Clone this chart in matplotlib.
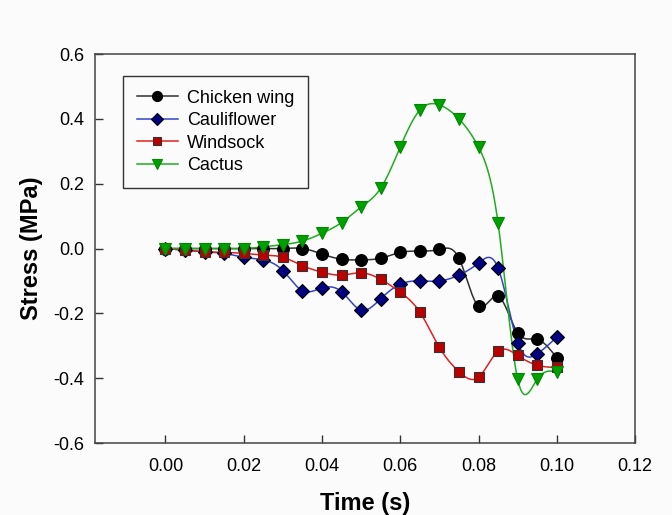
import numpy as np
import matplotlib
matplotlib.use("Agg")
import matplotlib.pyplot as plt

plt.rcParams['font.family'] = ['Liberation Sans', 'DejaVu Sans']

time = [0.000, 0.005, 0.010, 0.015, 0.020, 0.025, 0.030, 0.035, 0.040, 0.045,
        0.050, 0.055, 0.060, 0.065, 0.070, 0.075, 0.080, 0.085, 0.090, 0.095, 0.100]
chicken = [0.000, 0.000, 0.000, 0.000, 0.000, 0.000, 0.000, 0.000, -0.017, -0.033,
           -0.035, -0.030, -0.012, -0.008, -0.003, -0.030, -0.178, -0.147, -0.260, -0.280, -0.337]
cauliflower = [0.000, -0.005, -0.010, -0.015, -0.027, -0.035, -0.068, -0.130, -0.122, -0.133,
               -0.190, -0.155, -0.110, -0.100, -0.100, -0.082, -0.045, -0.060, -0.290, -0.325, -0.273]
windsock = [0.000, -0.005, -0.010, -0.012, -0.015, -0.020, -0.027, -0.053, -0.073, -0.082,
            -0.075, -0.095, -0.135, -0.196, -0.305, -0.380, -0.397, -0.317, -0.330, -0.360, -0.367]
cactus = [0.000, 0.000, 0.000, 0.000, 0.000, 0.005, 0.012, 0.023, 0.047, 0.080,
          0.128, 0.186, 0.313, 0.427, 0.443, 0.400, 0.313, 0.078, -0.403, -0.403, -0.380]

labels = ['Chicken wing', 'Cauliflower', 'Windsock', 'Cactus']
xticks = [0.00, 0.02, 0.04, 0.06, 0.08, 0.10, 0.12]
yticks = [-0.6, -0.4, -0.2, 0.0, 0.2, 0.4, 0.6]


def natural_spline(x, y, n=600):
    x = np.asarray(x, float)
    y = np.asarray(y, float)
    m = len(x)
    h = np.diff(x)
    A = np.zeros((m, m))
    b = np.zeros(m)
    A[0, 0] = 1
    A[-1, -1] = 1
    for i in range(1, m - 1):
        A[i, i - 1] = h[i - 1]
        A[i, i] = 2 * (h[i - 1] + h[i])
        A[i, i + 1] = h[i]
        b[i] = 6 * ((y[i + 1] - y[i]) / h[i] - (y[i] - y[i - 1]) / h[i - 1])
    M = np.linalg.solve(A, b)
    xs = np.linspace(x[0], x[-1], n)
    idx = np.clip(np.searchsorted(x, xs) - 1, 0, m - 2)
    x0 = x[idx]
    x1 = x[idx + 1]
    hh = x1 - x0
    a = (x1 - xs) / hh
    bb = (xs - x0) / hh
    ys = (a * y[idx] + bb * y[idx + 1]
          + ((a ** 3 - a) * M[idx] + (bb ** 3 - bb) * M[idx + 1]) * hh ** 2 / 6)
    return xs, ys


fig = plt.figure(figsize=(6.72, 5.15), dpi=100, facecolor='#fbfbfb')
ax = fig.add_axes([0.1414, 0.1398, 0.8036, 0.7553], facecolor='#fbfbfb')

series = [chicken, cauliflower, windsock, cactus]
line_colors = ['#303030', '#3344cc', '#dd2222', '#22aa22']
marker_fc = ['#000000', '#000080', '#bb0000', '#00a000']
marker_ec = ['#000000', '#000000', '#333333', '#008800']
markers = ['o', 'D', 's', 'v']
msizes = [8.5, 7.5, 7.0, 8.5]

for vals, lc, fc, ec, mk, ms, lab in zip(series, line_colors, marker_fc, marker_ec,
                                         markers, msizes, labels):
    xs, ys = natural_spline(time, vals)
    ax.plot(xs, ys, color=lc, lw=1.1, zorder=2)
    ax.plot(time, vals, linestyle='none', marker=mk, ms=ms, mfc=fc, mec=ec, mew=0.8, zorder=3)
    ax.plot([], [], color=lc, lw=1.1, marker=mk, ms=ms * 0.85, mfc=fc, mec=ec, mew=0.8, label=lab)

ax.set_xlim(-0.018, 0.12)
ax.set_ylim(-0.6, 0.6)
ax.set_xticks(xticks)
ax.set_xticklabels([f'{v:.2f}' for v in xticks])
ax.set_yticks(yticks)
ax.set_yticklabels([f'{v:.1f}' for v in yticks])
ax.tick_params(direction='in', length=6, width=1, labelsize=13, color='#333333')
ax.tick_params(axis='x', pad=11)
ax.tick_params(axis='y', pad=8)
for side in ['left', 'bottom', 'top', 'right']:
    ax.spines[side].set_color('#444444')
    ax.spines[side].set_linewidth(1.1)

ax.set_xlabel('Time (s)', fontsize=17, fontweight='bold', labelpad=12)
ax.set_ylabel('Stress (MPa)', fontsize=17, fontweight='bold', labelpad=7)

leg = ax.legend(loc='upper left', bbox_to_anchor=(0.052, 0.943), borderaxespad=0,
                fontsize=13, handlelength=2.3, labelspacing=0.3, fancybox=False,
                framealpha=1, edgecolor='#333333', facecolor='#fbfbfb',
                borderpad=0.75, handletextpad=0.5)
leg.get_frame().set_linewidth(1.0)

fig.savefig('out.png', dpi=100, facecolor=fig.get_facecolor())
